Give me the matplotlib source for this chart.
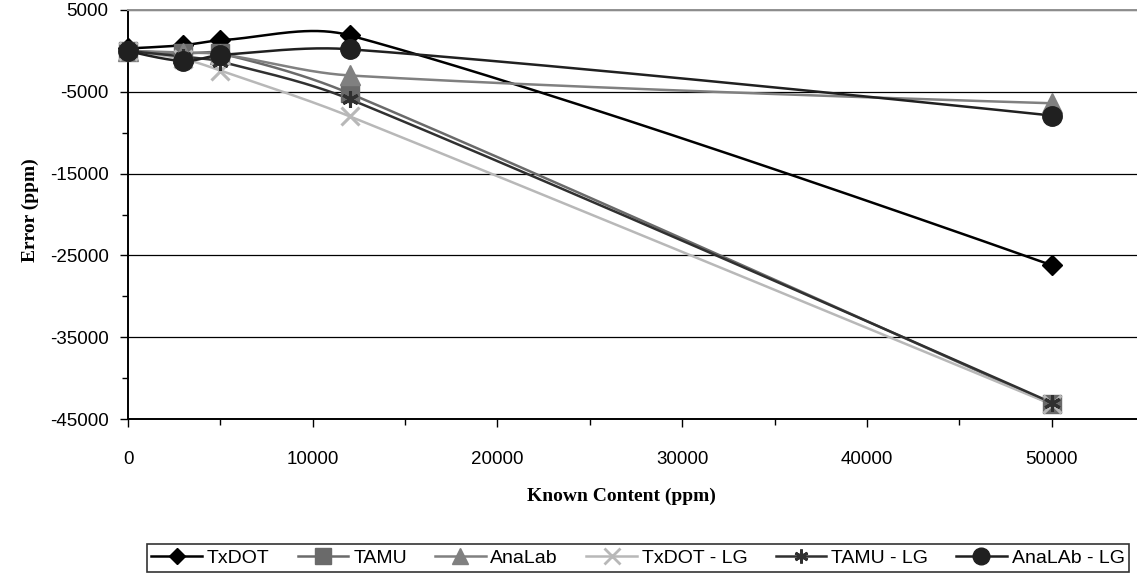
import numpy as np
import matplotlib.pyplot as plt
from matplotlib.ticker import MultipleLocator

plt.rcParams['axes.unicode_minus'] = False

known = [0, 3000, 5000, 12000, 50000]

names = ['TxDOT', 'TAMU', 'AnaLab', 'TxDOT - LG', 'TAMU - LG', 'AnaLAb - LG']
txdot = [300, 700, 1300, 1900, -26200]
tamu = [0, -300, -300, -5200, -43200]
analab = [0, -200, -400, -3000, -6400]
txdot_lg = [0, -1000, -2400, -8000, -43200]
tamu_lg = [0, -700, -1300, -5900, -43000]
analab_lg = [0, -1250, -500, 200, -7900]

series = [txdot, tamu, analab, txdot_lg, tamu_lg, analab_lg]
colors = ['#000000', '#6a6a6a', '#808080', '#b8b8b8', '#303030', '#202020']
markers = ['D', 's', '^', 'x', (6, 2, 0), 'o']
msizes = [10, 13, 14, 13, 12, 14]

W, H = 1137, 577
x0, x1 = 128, 1144   # pixel positions of 0 and 55000
y0, y1 = 419, 10     # pixel positions of -45000 and 5000
sx = (x1 - x0) / 55000
sy = (y0 - y1) / 50000


def smooth(x, y, n=60):
    # bezier through the points, tangents scaled by segment length (pixel space)
    p = np.column_stack([np.array(x) * sx, np.array(y) * sy]).astype(float)
    out = []
    for i in range(len(p) - 1):
        a = p[i - 1] if i > 0 else p[i]
        b, c = p[i], p[i + 1]
        d = p[i + 2] if i + 2 < len(p) else p[i + 1]
        dab = np.hypot(*(b - a))
        dbc = np.hypot(*(c - b))
        dcd = np.hypot(*(d - c))
        c1 = b + (c - a) * (dbc / (dab + dbc) / 3 if dab > 0 else 0)
        c2 = c - (d - b) * (dbc / (dbc + dcd) / 3 if dcd > 0 else 0)
        t = np.linspace(0, 1, n)[:, None]
        seg = ((1 - t) ** 3 * b + 3 * (1 - t) ** 2 * t * c1
               + 3 * (1 - t) * t ** 2 * c2 + t ** 3 * c)
        out.append(seg)
    out = np.vstack(out)
    return out[:, 0] / sx, out[:, 1] / sy


fig = plt.figure(figsize=(W / 100, H / 100), dpi=100)
ax = fig.add_axes([x0 / W, 1 - y0 / H, (x1 - x0) / W, (y0 - y1) / H])

handles = []
for s, c, m, ms, lab in zip(series, colors, markers, msizes, names):
    cx, cy = smooth(known, s)
    ax.plot(cx, cy, color=c, lw=1.8, zorder=3)
    thin = m in ('x', (6, 2, 0))
    ax.plot(known, s, ls='none', marker=m, ms=ms, color=c, mec=c,
            mew=2.2 if thin else 1, zorder=4, clip_on=False)
    h, = ax.plot([], [], color=c, lw=1.8, marker=m, ms=ms - 2, mec=c,
                 mew=2 if thin else 1)
    handles.append(h)

ax.set_xlim(0, 55000)
ax.set_ylim(-45000, 5000)
ax.set_yticks(np.arange(-45000, 5001, 10000))
ax.yaxis.set_minor_locator(MultipleLocator(5000))
ax.set_xticks([0, 10000, 20000, 30000, 40000, 50000])
ax.xaxis.set_minor_locator(MultipleLocator(5000))

ax.grid(axis='y', which='major', color='black', lw=0.9, zorder=1)
for sp in ['left', 'bottom']:
    ax.spines[sp].set_color('black')
    ax.spines[sp].set_linewidth(1.4)
ax.spines['top'].set_color('#909090')
ax.spines['top'].set_linewidth(1.4)
ax.spines['right'].set_visible(False)

ax.tick_params(axis='both', which='major', length=6, width=1, direction='out',
               labelsize=13.5, colors='black')
ax.tick_params(axis='both', which='minor', length=4, width=1, direction='out')
ax.tick_params(axis='x', pad=17)
ax.tick_params(axis='y', pad=8)
for t in ax.get_xticklabels() + ax.get_yticklabels():
    t.set_family('Liberation Sans')

fig.text(527 / W, 1 - 488 / H, 'Known Content (ppm)', ha='left', va='top',
         family='Liberation Serif', weight='bold', fontsize=14)
fig.text(30 / W, 1 - 210 / H, 'Error (ppm)', ha='center', va='center',
         rotation=90, family='Liberation Serif', weight='bold', fontsize=14)

leg = fig.legend(handles, names, loc='center', bbox_to_anchor=(638 / W, 1 - 558 / H),
                 ncol=6, frameon=True, fancybox=False, edgecolor='black',
                 prop={'family': 'Liberation Sans', 'size': 14},
                 handlelength=2.6, handletextpad=0.25, columnspacing=1.45,
                 borderpad=0.25, borderaxespad=0)
leg.get_frame().set_linewidth(1.2)

fig.savefig('out.png', dpi=100)
